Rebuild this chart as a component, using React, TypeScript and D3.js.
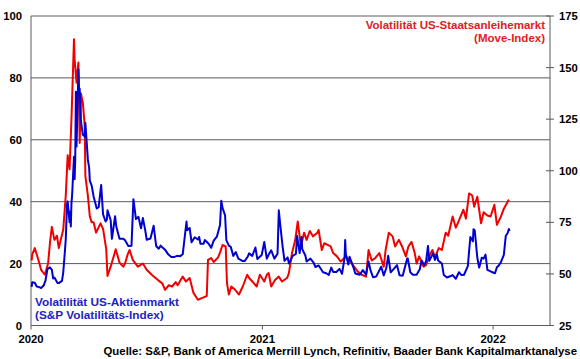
import React from "react";
import * as d3 from "d3";

// VIX (left axis)
const vix: [string, number][] = [
  ["2020-01-02",12.5],["2020-01-03",14.0],["2020-01-07",13.8],["2020-01-10",12.6],["2020-01-14",12.4],["2020-01-17",12.1],["2020-01-21",12.9],["2020-01-24",14.6],["2020-01-27",18.2],["2020-01-31",18.8],
  ["2020-02-03",18.0],["2020-02-05",15.2],["2020-02-07",15.5],["2020-02-12",13.7],["2020-02-14",13.7],["2020-02-19",14.4],["2020-02-21",17.1],["2020-02-24",25.0],["2020-02-25",27.9],["2020-02-27",39.2],["2020-02-28",40.1],
  ["2020-03-02",33.4],["2020-03-03",36.8],["2020-03-04",32.0],["2020-03-05",39.6],["2020-03-06",41.9],["2020-03-09",54.5],["2020-03-10",47.3],["2020-03-11",53.9],["2020-03-12",75.5],["2020-03-13",57.8],["2020-03-16",82.7],["2020-03-17",75.9],["2020-03-18",76.5],["2020-03-19",72.0],["2020-03-20",66.0],["2020-03-23",61.6],["2020-03-24",61.7],["2020-03-26",61.0],["2020-03-27",65.5],["2020-03-31",53.5],
  ["2020-04-02",50.9],["2020-04-03",46.8],["2020-04-06",45.2],["2020-04-09",41.7],["2020-04-14",37.8],["2020-04-17",38.2],["2020-04-21",45.4],["2020-04-24",35.9],["2020-04-28",33.6],["2020-04-30",34.2],
  ["2020-05-01",37.2],["2020-05-06",34.1],["2020-05-08",28.0],["2020-05-13",35.3],["2020-05-15",31.9],["2020-05-20",28.0],["2020-05-26",28.0],["2020-05-29",27.5],
  ["2020-06-03",25.7],["2020-06-08",25.8],["2020-06-11",40.8],["2020-06-15",34.4],["2020-06-19",35.1],["2020-06-23",31.4],["2020-06-26",34.7],["2020-06-30",30.4],
  ["2020-07-02",27.7],["2020-07-08",28.1],["2020-07-13",32.2],["2020-07-17",25.7],["2020-07-21",24.8],["2020-07-24",25.8],["2020-07-31",24.5],
  ["2020-08-05",23.0],["2020-08-10",22.1],["2020-08-14",22.1],["2020-08-19",22.5],["2020-08-24",22.4],["2020-08-28",23.0],
  ["2020-09-03",33.6],["2020-09-04",30.8],["2020-09-08",31.5],["2020-09-11",26.9],["2020-09-16",28.5],["2020-09-21",27.8],["2020-09-23",28.6],["2020-09-25",26.4],["2020-09-30",26.4],
  ["2020-10-02",27.6],["2020-10-08",26.4],["2020-10-12",25.1],["2020-10-16",27.4],["2020-10-21",28.7],["2020-10-26",32.5],["2020-10-28",40.3],["2020-10-30",38.0],
  ["2020-11-03",35.6],["2020-11-05",27.6],["2020-11-09",25.8],["2020-11-12",25.4],["2020-11-16",22.5],["2020-11-20",23.7],["2020-11-24",21.6],
  ["2020-12-01",20.8],["2020-12-04",20.8],["2020-12-09",22.3],["2020-12-11",23.3],["2020-12-16",22.5],["2020-12-21",25.2],["2020-12-24",21.5],["2020-12-31",22.8],
  ["2021-01-04",27.0],["2021-01-08",21.6],["2021-01-12",23.3],["2021-01-15",24.3],["2021-01-20",21.6],["2021-01-25",23.2],["2021-01-27",37.2],["2021-01-29",33.1],
  ["2021-02-02",25.6],["2021-02-05",20.9],["2021-02-10",22.0],["2021-02-12",20.0],["2021-02-18",22.5],["2021-02-23",23.1],["2021-02-25",28.9],
  ["2021-03-01",23.4],["2021-03-04",28.6],["2021-03-05",24.7],["2021-03-10",22.6],["2021-03-12",20.7],["2021-03-18",21.6],["2021-03-23",20.3],["2021-03-26",18.9],["2021-03-31",19.4],
  ["2021-04-07",17.2],["2021-04-12",16.9],["2021-04-16",16.3],["2021-04-20",18.7],["2021-04-23",17.3],["2021-04-28",17.3],
  ["2021-05-03",18.3],["2021-05-07",16.7],["2021-05-11",21.8],["2021-05-12",27.6],["2021-05-13",23.1],["2021-05-17",19.7],["2021-05-19",22.2],["2021-05-25",18.8],["2021-05-28",16.8],
  ["2021-06-04",16.4],["2021-06-09",17.9],["2021-06-14",16.4],["2021-06-18",20.7],["2021-06-21",17.9],["2021-06-25",15.6],["2021-06-30",15.8],
  ["2021-07-08",19.0],["2021-07-12",16.2],["2021-07-16",18.5],["2021-07-19",22.5],["2021-07-23",17.2],["2021-07-28",18.3],
  ["2021-08-02",19.5],["2021-08-06",16.2],["2021-08-11",16.1],["2021-08-18",21.6],["2021-08-19",21.7],["2021-08-23",17.2],["2021-08-27",16.4],
  ["2021-09-02",16.4],["2021-09-07",18.2],["2021-09-10",21.0],["2021-09-14",19.5],["2021-09-17",20.8],["2021-09-20",25.7],["2021-09-22",20.9],["2021-09-28",23.3],
  ["2021-10-01",21.2],["2021-10-04",23.0],["2021-10-06",21.0],["2021-10-12",20.0],["2021-10-15",16.3],["2021-10-20",15.5],["2021-10-26",16.0],["2021-10-29",16.3],
  ["2021-11-03",15.1],["2021-11-08",17.2],["2021-11-12",16.3],["2021-11-16",16.4],["2021-11-22",19.2],["2021-11-26",28.6],["2021-11-30",27.2],
  ["2021-12-01",31.1],["2021-12-03",30.7],["2021-12-07",21.9],["2021-12-10",18.7],["2021-12-14",21.9],["2021-12-17",21.6],["2021-12-20",22.9],["2021-12-23",18.0],["2021-12-28",17.5],["2021-12-31",17.2],
  ["2022-01-04",16.9],["2022-01-07",18.8],["2022-01-10",19.4],["2022-01-13",20.3],["2022-01-18",22.8],["2022-01-21",28.9],["2022-01-24",29.9],["2022-01-26",31.2],["2022-01-27",30.5],
];

// MOVE index (right axis)
const move: [string, number][] = [
  ["2020-01-02",56.5],["2020-01-03",59.5],["2020-01-07",62.5],["2020-01-13",56.5],["2020-01-17",52],["2020-01-23",49.6],["2020-01-28",55],["2020-01-31",65],
  ["2020-02-03",72.8],["2020-02-07",66.5],["2020-02-11",68.5],["2020-02-14",62.5],["2020-02-21",71.5],["2020-02-25",88],["2020-02-28",107.5],
  ["2020-03-02",100.7],["2020-03-05",125],["2020-03-09",163.7],["2020-03-10",154],["2020-03-13",142.7],["2020-03-16",152.5],["2020-03-18",113.5],["2020-03-20",137.5],["2020-03-23",133],["2020-03-26",121.7],["2020-03-27",97.5],["2020-03-31",87.8],
  ["2020-04-03",78],["2020-04-06",75],["2020-04-09",75],["2020-04-13",70],["2020-04-20",74.5],["2020-04-24",71.8],["2020-04-29",62],
  ["2020-05-01",49],["2020-05-06",53.5],["2020-05-11",58.7],["2020-05-14",62],["2020-05-20",55.5],["2020-05-26",53.5],["2020-05-29",55.3],
  ["2020-06-02",59.5],["2020-06-05",61.6],["2020-06-10",56.8],["2020-06-18",53.5],["2020-06-26",55],
  ["2020-07-02",52],["2020-07-10",49.6],["2020-07-15",48.3],["2020-07-20",47],["2020-07-27",45.3],["2020-07-31",42.3],
  ["2020-08-06",44.5],["2020-08-11",43.9],["2020-08-17",46],["2020-08-20",44.5],["2020-08-28",48.7],
  ["2020-09-02",46.3],["2020-09-08",48],["2020-09-14",40.8],["2020-09-21",37.5],["2020-09-29",38.5],
  ["2020-10-05",39.3],["2020-10-07",56.8],["2020-10-12",57.7],["2020-10-16",55.8],["2020-10-23",58],["2020-10-26",60.3],["2020-10-30",64],
  ["2020-11-04",63.3],["2020-11-06",45.7],["2020-11-09",40],["2020-11-13",43.9],["2020-11-19",42.3],["2020-11-25",40],
  ["2020-12-01",43.9],["2020-12-08",49.6],["2020-12-11",48],["2020-12-18",45.7],["2020-12-23",43.9],["2020-12-28",49.6],
  ["2021-01-04",46.3],["2021-01-08",49.6],["2021-01-11",50.4],["2021-01-15",43.9],["2021-01-21",47],["2021-01-27",48.7],
  ["2021-02-01",46.3],["2021-02-09",48],["2021-02-12",50.4],["2021-02-17",60.3],["2021-02-22",66.5],["2021-02-26",75.4],
  ["2021-03-03",63.3],["2021-03-08",70],["2021-03-12",66.5],["2021-03-17",70.8],["2021-03-22",68.2],["2021-03-29",70],["2021-03-31",71.3],
  ["2021-04-05",61.6],["2021-04-09",64.9],["2021-04-19",63.3],["2021-04-23",60.1],["2021-04-29",58.5],
  ["2021-05-05",56],["2021-05-13",58.5],["2021-05-19",56.8],["2021-05-26",53.5],
  ["2021-06-01",51.1],["2021-06-07",49.6],["2021-06-14",48.7],["2021-06-18",61.6],["2021-06-23",56.5],["2021-06-28",57.5],
  ["2021-07-05",60.1],["2021-07-12",53.5],["2021-07-15",61.6],["2021-07-20",70],["2021-07-26",68.2],["2021-07-30",63.3],
  ["2021-08-05",66.5],["2021-08-10",63.3],["2021-08-16",58.5],["2021-08-20",63.3],["2021-08-25",65.5],["2021-08-30",60.1],
  ["2021-09-02",55],["2021-09-06",58.5],["2021-09-13",53.5],["2021-09-17",54.3],["2021-09-21",58],["2021-09-27",61.6],
  ["2021-10-01",58],["2021-10-07",62.5],["2021-10-12",61.6],["2021-10-18",70],["2021-10-22",68.5],["2021-10-29",77.8],
  ["2021-11-03",72.4],["2021-11-08",76],["2021-11-15",81.1],["2021-11-19",76.8],["2021-11-24",89],["2021-11-29",88],
  ["2021-12-02",82.6],["2021-12-07",87.4],["2021-12-13",74.5],["2021-12-17",79.9],["2021-12-23",78.3],["2021-12-28",77.8],
  ["2022-01-03",83.5],["2022-01-07",73.8],["2022-01-13",77.5],["2022-01-18",81.6],["2022-01-24",85],["2022-01-26",86],
];

const leftTicks = [0, 20, 40, 60, 80, 100];
const rightTicks = [25, 50, 75, 100, 125, 150, 175];
const yearTicks = ["2020-01-01", "2021-01-01", "2022-01-01"];

const W = 580, H = 359;
const L = 31, R = 550, T = 16, B = 325.5;
const FONT = "'Liberation Sans', Arial, sans-serif";
const RED = "#f00000";
const BLUE = "#0000d0";
const GRID = "#5a5a5a";

export default function App() {
  const parse = d3.timeParse("%Y-%m-%d");
  const x = d3.scaleTime().domain([new Date(2020, 0, 1), new Date(2022, 3, 1)]).range([L, R]);
  const yL = d3.scaleLinear().domain([0, 100]).range([B, T]);
  const yR = d3.scaleLinear().domain([25, 175]).range([B, T]);

  const blueLine = d3.line<[string, number]>().x(d => x(parse(d[0])!)).y(d => yL(d[1]));
  const redLine = d3.line<[string, number]>().x(d => x(parse(d[0])!)).y(d => yR(d[1]));

  return (
    <svg width={W} height={H} style={{ position: "absolute", left: 0, top: 0, background: "#fff" }} fontFamily={FONT} fontWeight="bold">
      <rect width={W} height={H} fill="#fff" />
      {leftTicks.map(t => (
        <g key={"l" + t}>
          <line x1={L} x2={R} y1={yL(t)} y2={yL(t)} stroke={GRID} strokeWidth={1} />
          <text x={22} y={yL(t)} dy="0.36em" textAnchor="end" fontSize={11.3} fill="#000">{t}</text>
        </g>
      ))}
      <line x1={L} x2={L} y1={T} y2={B} stroke={GRID} strokeWidth={1} />
      <line x1={R} x2={R} y1={T} y2={B} stroke={GRID} strokeWidth={1} />
      {rightTicks.map(t => (
        <g key={"r" + t}>
          <line x1={R - 4} x2={R + 4} y1={yR(t)} y2={yR(t)} stroke={GRID} strokeWidth={1} />
          <text x={559} y={yR(t)} dy="0.36em" textAnchor="start" fontSize={11.3} fill="#000">{t}</text>
        </g>
      ))}
      {yearTicks.map(s => {
        const d = parse(s)!;
        return (
          <g key={s}>
            <line x1={x(d)} x2={x(d)} y1={B} y2={B + 4} stroke={GRID} strokeWidth={1} />
            <text x={x(d)} y={343} textAnchor="middle" fontSize={11.3} fill="#000">{d3.timeFormat("%Y")(d)}</text>
          </g>
        );
      })}
      <path d={redLine(move)!} fill="none" stroke={RED} strokeWidth={2} strokeLinejoin="round" />
      <path d={blueLine(vix)!} fill="none" stroke={BLUE} strokeWidth={2} strokeLinejoin="round" />
      <text x={545} y={29} textAnchor="end" fontSize={11.5} fill="#e0201f">Volatilität US-Staatsanleihemarkt</text>
      <text x={545} y={42} textAnchor="end" fontSize={11.5} fill="#e0201f">(Move-Index)</text>
      <text x={35} y={306} fontSize={11.8} fill="#2222c0">Volatilität US-Aktienmarkt</text>
      <text x={35} y={318.5} fontSize={11.8} fill="#2222c0">(S&amp;P Volatilitäts-Index)</text>
      <text x={577} y={355} textAnchor="end" fontSize={11.4} fill="#000">Quelle: S&amp;P, Bank of America Merrill Lynch, Refinitiv, Baader Bank Kapitalmarktanalyse</text>
    </svg>
  );
}
